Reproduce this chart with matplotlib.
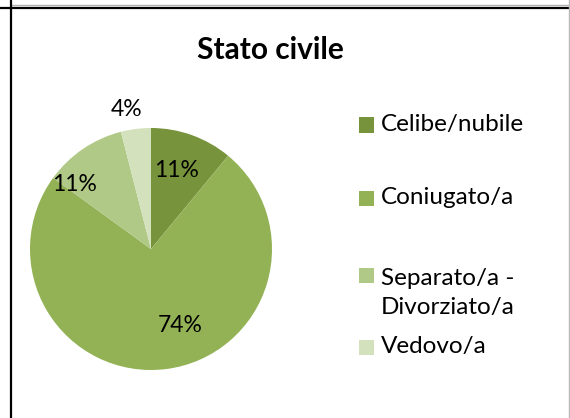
import matplotlib.pyplot as plt
from matplotlib.lines import Line2D
from matplotlib.patches import Rectangle

plt.rcParams['font.family'] = ['Lato', 'DejaVu Sans']

# Data
categories = ['Celibe/nubile', 'Coniugato/a', 'Separato/a -\nDivorziato/a', 'Vedovo/a']
values = [11, 74, 11, 4]
colors = ['#77933C', '#93B255', '#B0C987', '#D3E1BC']
pct_labels = ['11%', '74%', '11%', '4%']
# label anchors in pie units (radius = 1)
label_pos = [(0.21, 0.65), (0.24, -0.63), (-0.63, 0.53), (-0.2, 1.15)]

W, H = 570, 418
fig = plt.figure(figsize=(W / 100, H / 100), dpi=100)

# pie axes: center (151, 249) px, radius 121 px
cx, cy, r = 151, 249, 121
ax = fig.add_axes([(cx - r) / W, (H - cy - r) / H, 2 * r / W, 2 * r / H])
ax.pie(values, colors=colors, startangle=90, counterclock=False,
       radius=1, frame=False, wedgeprops=dict(linewidth=0))
ax.set_xlim(-1, 1)
ax.set_ylim(-1, 1)
ax.set_aspect('equal')
for (x, y), t in zip(label_pos, pct_labels):
    ax.text(x, y, t, ha='center', va='center', fontsize=16.5, color='black',
            clip_on=False)

# title
fig.text(270 / W, 1 - 50 / H, 'Stato civile', ha='center', va='center',
         fontsize=21.5, fontweight='bold')

# legend drawn by hand (square y, text y in pixels from top)
box_y = [125, 198, 275, 347]
text_y = [125, 198, 293, 347]
for by, ty, lab, c in zip(box_y, text_y, categories, colors):
    fig.add_artist(Rectangle((359 / W, 1 - (by + 7.5) / H), 15 / W, 15 / H,
                             transform=fig.transFigure, color=c, lw=0))
    fig.text(381 / W, 1 - ty / H, lab, ha='left', va='center',
             fontsize=17.5, linespacing=1.45,
             transform=fig.transFigure)

# table / frame borders
fig.add_artist(Line2D([12 / W, 569 / W], [1 - 5 / H, 1 - 5 / H], color='#b0b0b0', lw=1,
                      transform=fig.transFigure))
fig.add_artist(Line2D([0, 569 / W], [1 - 7.5 / H, 1 - 7.5 / H], color='black', lw=1.6,
                      transform=fig.transFigure))
fig.add_artist(Line2D([11 / W, 11 / W], [0, 1], color='black', lw=1.6,
                      transform=fig.transFigure))
fig.add_artist(Line2D([569 / W, 569 / W], [0, 1], color='#b8b8b8', lw=1,
                      transform=fig.transFigure))

fig.savefig('out.png', dpi=100)
